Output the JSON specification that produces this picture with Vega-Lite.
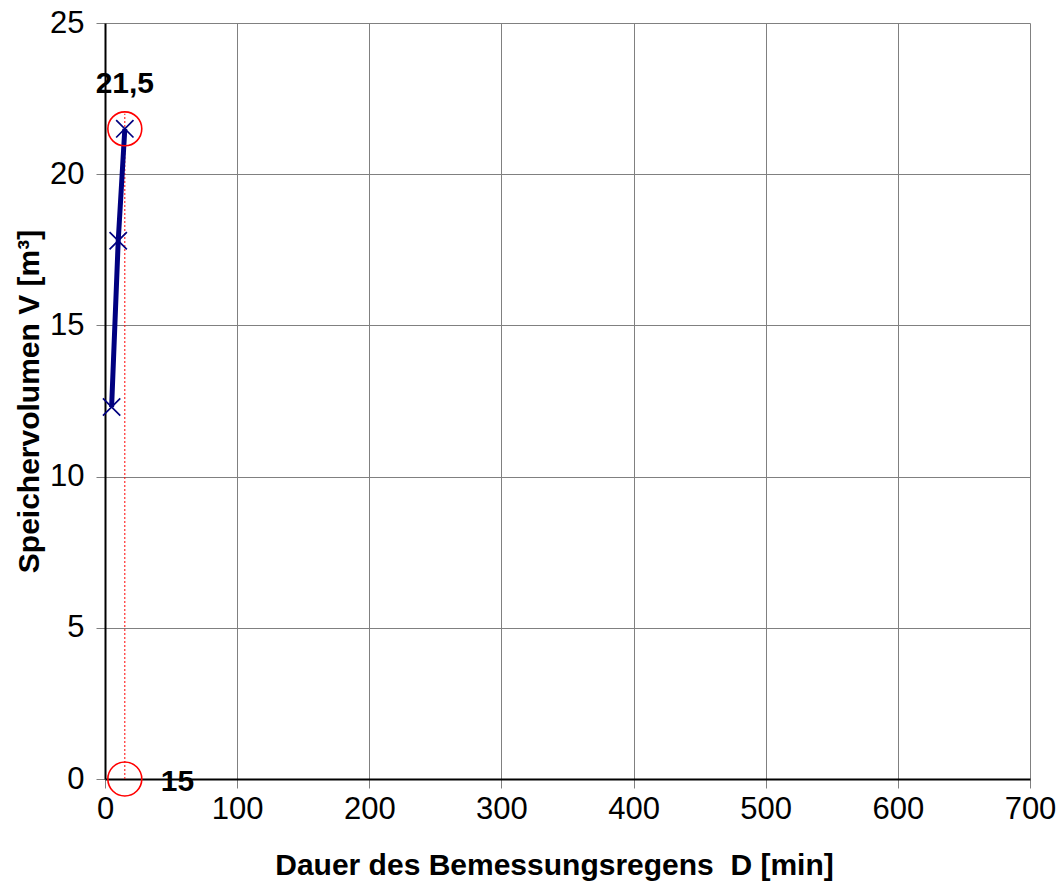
{
  "$schema": "https://vega.github.io/schema/vega-lite/v6.json",
  "width": 925,
  "height": 756,
  "autosize": {"type": "none"},
  "padding": {"left": 105, "top": 23, "right": 34, "bottom": 111},
  "background": "white",
  "config": {
    "view": {"stroke": null},
    "font": "Liberation Sans"
  },
  "datasets": {
    "series": [
      {"D": 5, "V": 12.3},
      {"D": 10, "V": 17.8},
      {"D": 15, "V": 21.5}
    ],
    "marker": [
      {"D": 15, "V": 21.5, "label": "21,5"},
      {"D": 15, "V": 0, "label": "15"}
    ],
    "guide": [
      {"D": 15, "V0": 0, "V1": 22}
    ]
  },
  "encoding": {
    "x": {
      "field": "D", "type": "quantitative",
      "scale": {"domain": [0, 700], "nice": false, "zero": true},
      "axis": {
        "values": [0, 100, 200, 300, 400, 500, 600, 700],
        "title": "Dauer des Bemessungsregens\u00a0 D [min]",
        "titleFont": "Liberation Sans", "titleFontSize": 30, "titleFontWeight": "bold",
        "titleColor": "black", "titlePadding": 26, "titleX": 449,
        "labelFont": "Liberation Sans", "labelFontSize": 31, "labelColor": "black",
        "labelPadding": 6, "labelFlush": false,
        "tickColor": "#808080", "tickSize": 9, "tickWidth": 1,
        "domainColor": "black", "domainWidth": 2,
        "grid": true, "gridColor": "#808080", "gridWidth": 1
      }
    },
    "y": {
      "field": "V", "type": "quantitative",
      "scale": {"domain": [0, 25], "nice": false},
      "axis": {
        "values": [0, 5, 10, 15, 20, 25],
        "title": "Speichervolumen V [m³]",
        "titleFont": "Liberation Sans", "titleFontSize": 30, "titleFontWeight": "bold",
        "titleColor": "black", "titlePadding": 5,
        "labelFont": "Liberation Sans", "labelFontSize": 31, "labelColor": "black",
        "labelPadding": 12, "labelFlush": false,
        "tickColor": "#808080", "tickSize": 9, "tickWidth": 1,
        "domainColor": "black", "domainWidth": 2,
        "grid": true, "gridColor": "#808080", "gridWidth": 1
      }
    }
  },
  "layer": [
    {
      "data": {"name": "guide"},
      "mark": {"type": "rule", "color": "red", "strokeWidth": 1, "strokeDash": [2, 2]},
      "encoding": {
        "y": {"field": "V0", "type": "quantitative"},
        "y2": {"field": "V1"}
      }
    },
    {
      "data": {"name": "series"},
      "mark": {"type": "line", "color": "#000080", "strokeWidth": 5}
    },
    {
      "data": {"name": "series"},
      "mark": {"type": "point", "shape": "M-1,-1L1,1M-1,1L1,-1", "size": 300, "color": "#000080", "strokeWidth": 1.7, "filled": false, "opacity": 1}
    },
    {
      "data": {"name": "marker"},
      "mark": {"type": "point", "shape": "circle", "size": 1150, "color": "red", "strokeWidth": 1.6, "filled": false, "opacity": 1}
    },
    {
      "data": {"name": "marker"},
      "transform": [{"filter": "datum.V > 0"}],
      "mark": {"type": "text", "font": "Liberation Sans", "fontSize": 30, "fontWeight": "bold", "color": "black", "dy": -45, "dx": 0, "align": "center", "baseline": "middle"},
      "encoding": {"text": {"field": "label"}}
    },
    {
      "data": {"name": "marker"},
      "transform": [{"filter": "datum.V == 0"}],
      "mark": {"type": "text", "font": "Liberation Sans", "fontSize": 30, "fontWeight": "bold", "color": "black", "dx": 36, "align": "left", "baseline": "middle", "dy": 3},
      "encoding": {"text": {"field": "label"}}
    }
  ]
}
